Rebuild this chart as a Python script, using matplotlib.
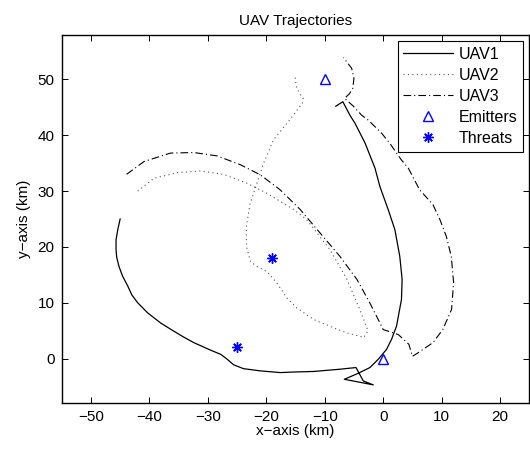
import matplotlib
matplotlib.use("Agg")
import matplotlib.pyplot as plt

plt.rcParams['font.family'] = ['Liberation Sans', 'DejaVu Sans']
plt.rcParams['lines.scale_dashes'] = False

# UAV1 trajectory (km)
uav1_x = [-8.1, -6.9, -5.7, -4.8, -3.1, -1.4, -0.56, 0.85, 2.0, 2.84, 3.24, 3.13, 2.28, 1.43, 0.58,
          -0.85, -2.27, -4.2, -6.65, -1.7, -3.4, -4.65, -7.4, -11.9, -15.3, -17.6, -21.0, -23.9,
          -25.6, -26.7, -27.8, -29.5, -32.4, -34.2, -35.8, -38.1, -40.3, -42.0, -43.0, -43.7, -44.6,
          -45.2, -45.6, -45.7, -45.7, -45.4, -45.0]
uav1_y = [45.2, 46.0, 43.6, 42.1, 38.6, 34.1, 30.8, 26.7, 23.1, 18.3, 14.2, 10.6, 5.8, 3.45, 1.66,
          -0.13, -1.6, -2.6, -3.7, -4.7, -4.0, -1.6, -1.9, -2.3, -2.4, -2.5, -2.2, -1.8,
          -1.1, -0.1, 0.77, 1.5, 2.86, 3.9, 4.9, 6.4, 8.2, 10.0, 11.4, 13.0, 14.8,
          16.5, 18.2, 19.5, 21.3, 23.1, 25.0]

# UAV2 trajectory (km)
uav2_x = [-42.0, -39.2, -35.2, -31.2, -27.3, -23.3, -19.9, -15.3, -13.1, -9.1, -6.2, -4.0, -2.6,
          -3.3, -6.2, -8.2, -11.9, -14.8, -16.5, -18.3, -19.9, -21.6, -22.7, -23.4, -23.4, -22.8,
          -21.6, -20.45, -18.75, -15.8, -14.5, -13.8, -13.7, -14.3, -14.8, -15.0, -15.05]
uav2_y = [30.0, 32.3, 33.3, 33.6, 33.0, 31.4, 29.6, 26.7, 24.9, 19.5, 14.2, 8.8, 5.0,
          3.8, 4.6, 5.4, 7.0, 9.1, 10.9, 13.7, 15.6, 16.5, 17.4, 20.1, 23.7, 27.6,
          31.4, 35.0, 39.2, 43.0, 44.8, 45.8, 46.6, 47.5, 48.5, 49.7, 50.6]

# UAV3 trajectory (km)
uav3_x = [-43.9, -40.9, -36.4, -32.4, -28.4, -24.4, -21.0, -17.6, -14.2, -10.8, -7.4, -4.5, -2.3,
          -0.56, 0.0, 2.6, 4.4, 5.0, 6.0, 8.5, 10.2, 11.7, 12.05, 11.65, 10.8, 9.7, 8.5, 6.25,
          4.3, 3.1, 1.1, -0.3, -2.55, -3.7, -5.1, -6.6, -5.8, -5.2, -5.0, -5.4, -6.8]
uav3_y = [33.0, 35.3, 36.8, 36.9, 36.3, 34.7, 32.9, 30.2, 26.7, 22.5, 18.3, 14.2, 10.0,
          6.4, 5.2, 4.3, 2.55, 0.4, 1.07, 2.85, 5.2, 8.8, 13.6, 18.3, 21.9, 24.9, 27.6, 30.2,
          34.1, 35.6, 38.6, 40.4, 42.7, 43.6, 45.2, 46.6, 47.4, 48.4, 50.2, 52.0, 53.9]

emitters_x = [-10, 0]
emitters_y = [50, 0]
threats_x = [-19, -25]
threats_y = [18, 2]

xticks = [-50, -40, -30, -20, -10, 0, 10, 20]
yticks = [0, 10, 20, 30, 40, 50]

fig = plt.figure(figsize=(5.3, 4.5), dpi=100)
ax = fig.add_axes([0.1164, 0.1038, 0.8823, 0.8191])

ax.plot(uav1_x, uav1_y, color='black', linewidth=0.9, linestyle='-', label='UAV1')
ax.plot(uav2_x, uav2_y, color='#555555', linewidth=0.8, linestyle=(0, (0.8, 2.4)), label='UAV2')
ax.plot(uav3_x, uav3_y, color='black', linewidth=0.8, linestyle=(0, (5.5, 2.2, 0.8, 2.2)), label='UAV3')
ax.plot(emitters_x, emitters_y, linestyle='none', marker='^', markersize=7,
        markerfacecolor='none', markeredgecolor='blue', markeredgewidth=1.0, label='Emitters')
ax.plot(threats_x, threats_y, linestyle='none', marker=(8, 2, 0), markersize=7.5,
        color='blue', markeredgewidth=1.0, label='Threats')

ax.set_xlim(-55, 25)
ax.set_ylim(-8, 58)
ax.set_xticks(xticks)
ax.set_yticks(yticks)
ax.tick_params(direction='in', top=True, right=True, length=4, width=0.7, labelsize=11, pad=5)
for s in ax.spines.values():
    s.set_linewidth(1.0)

ax.set_title('UAV Trajectories', fontsize=11, pad=7)
ax.set_xlabel('x\u2212axis (km)', fontsize=11, labelpad=0)
ax.set_ylabel('y\u2212axis (km)', fontsize=11, labelpad=5)

leg = ax.legend(loc='upper right', fontsize=11.5, frameon=True, fancybox=False, framealpha=1,
                edgecolor='black', handlelength=3.1, handletextpad=0.35, borderpad=0.35,
                labelspacing=0.38, borderaxespad=0.4)
leg.get_frame().set_linewidth(0.8)

fig.savefig('out.png', dpi=100)
